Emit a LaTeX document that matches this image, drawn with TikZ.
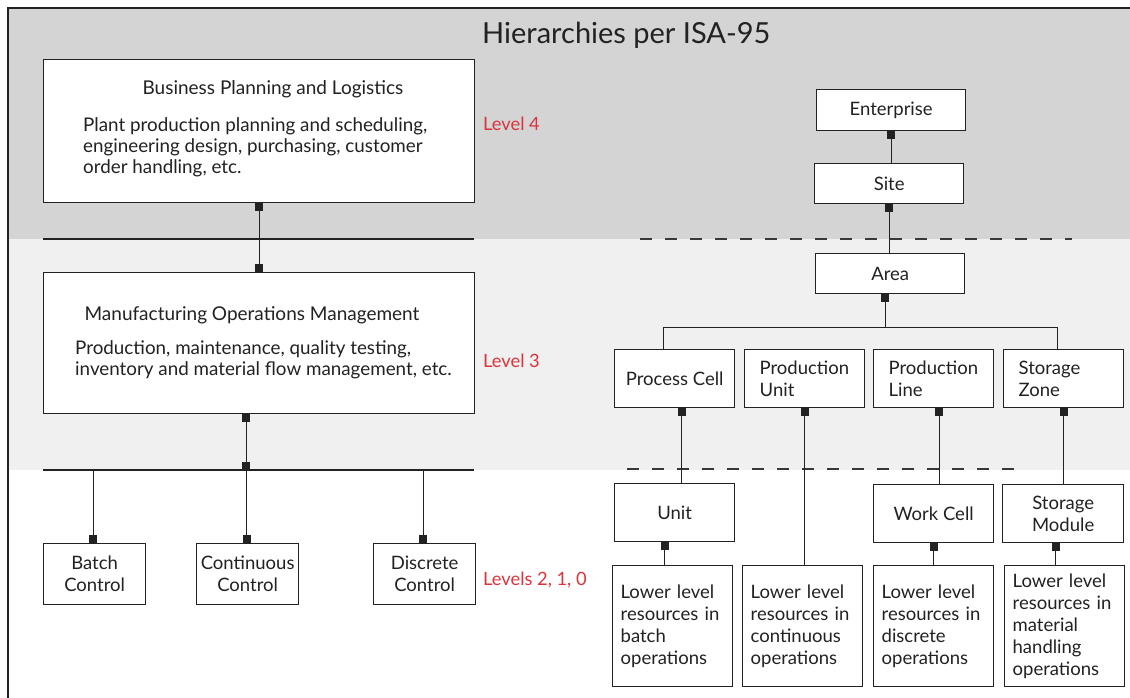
\documentclass[tikz,border=0pt]{standalone}
\usepackage{fontspec}
\setmainfont{Lato}
\usetikzlibrary{arrows.meta}
\definecolor{bandA}{HTML}{D4D4D4}
\definecolor{bandB}{HTML}{F0F0F0}
\definecolor{lvlred}{HTML}{D9343B}
\definecolor{ink}{HTML}{222222}
\tikzset{
  box/.style={draw=ink, line width=1.3pt, fill=white, inner sep=0pt, anchor=north west,
    font=\fontsize{18.5}{22}\selectfont, align=center, text=ink},
  lbox/.style={box, align=left, text width=90pt, inner xsep=15pt},
  rbox/.style={box, align=left, text width=104pt, inner xsep=8pt},
  conn/.style={draw=ink, line width=1pt},
  sqs/.style={conn, {Square[length=8pt,width=8pt]}-},
  sqe/.style={conn, -{Square[length=8pt,width=8pt]}},
  sqb/.style={conn, {Square[length=8pt,width=8pt]}-{Square[length=8pt,width=8pt]}},
  lvl/.style={text=lvlred, font=\fontsize{18.3}{22}\selectfont, anchor=base west, inner sep=0pt},
  sep/.style={draw=ink, line width=1.8pt},
  dsep/.style={draw=ink!90, line width=1.8pt, dash pattern=on 12pt off 13pt},
  body/.style={anchor=north west, align=left, inner sep=0pt, font=\fontsize{18.8}{21}\selectfont, text=ink},
  head/.style={anchor=base, inner sep=0pt, font=\fontsize{19}{22}\selectfont, text=ink}
}
\begin{document}
\begin{tikzpicture}[x=1pt,y=-1pt]
\useasboundingbox (0,0) rectangle (1130,698);
% bands and frame
\fill[bandA] (8,8) rectangle (1130,239);
\fill[bandB] (8,239) rectangle (1130,470);
\draw[line width=2pt, draw=ink] (8,700) -- (8,8) -- (1132,8);
\node[anchor=base west, inner sep=0pt, font=\fontsize{29}{34}\selectfont, text=ink] (title) at (482,44) {Hierarchies per ISA-95};
% separators
\draw[sep] (43,239) -- (474,239);
\draw[sep] (43,470) -- (474,470);
\draw[dsep] (640,239) -- (1072,239);
\draw[dsep] (627,469) -- (1024,469);
% left column
\node[box, minimum width=431pt, minimum height=143pt] (bpl) at (43,59) {};
\node[head] (bplh) at (273,95) {Business Planning and Logistics};
\node[body] (bplb) at (83,117) {Plant production planning and scheduling,\\engineering design, purchasing, customer\\order handling, etc.};
\node[box, minimum width=431pt, minimum height=141pt] (mom) at (43,272) {};
\node[head] (momh) at (252,320) {Manufacturing Operations Management};
\node[body] (momb) at (75,340) {Production, maintenance, quality testing,\\inventory and material flow management, etc.};
\node[box, minimum width=102pt, minimum height=61pt] (batch) at (43,543) {Batch\\Control};
\node[box, minimum width=102pt, minimum height=61pt] (cont) at (196,543) {Continuous\\Control};
\node[box, minimum width=102pt, minimum height=61pt] (disc) at (373,543) {Discrete\\Control};
\coordinate (busc) at (246,470);
\draw[sqb] (bpl.south) -- (mom.north);
\draw[sqb] (mom.south -| busc) -- (busc);
\draw[sqe] ([xshift=-1.5pt]batch.north |- busc) -- ([xshift=-1.5pt]batch.north);
\draw[sqe] ([xshift=-1pt]cont.north |- busc) -- ([xshift=-1pt]cont.north);
\draw[sqe] ([xshift=-1.5pt]disc.north |- busc) -- ([xshift=-1.5pt]disc.north);
% level labels
\node[lvl] (l4) at (483,131) {Level 4};
\node[lvl] (l3) at (483,367) {Level 3};
\node[lvl] (l210) at (483,585) {Levels 2, 1, 0};
% right column
\node[box, minimum width=149pt, minimum height=41pt] (ent) at (816,89) {Enterprise};
\node[box, minimum width=149pt, minimum height=40pt] (site) at (814,163) {Site};
\node[box, minimum width=149pt, minimum height=40pt] (area) at (815,253) {Area};
\node[box, minimum width=120pt, minimum height=58pt] (pc) at (614,349) {Process Cell};
\node[lbox, minimum width=120pt, minimum height=58pt] (pu) at (744,349) {Production\\Unit};
\node[lbox, minimum width=120pt, minimum height=58pt] (pl) at (873,349) {Production\\Line};
\node[lbox, minimum width=120pt, minimum height=58pt] (sz) at (1003,349) {Storage\\Zone};
\node[box, minimum width=120pt, minimum height=58pt] (unit) at (614,483) {Unit};
\node[box, minimum width=120pt, minimum height=58pt] (wc) at (873,484) {Work Cell};
\node[box, minimum width=121pt, minimum height=58pt] (sm) at (1002,484) {Storage\\Module};
\node[rbox, minimum width=120pt, minimum height=121pt] (lb1) at (612,565) {Lower level\\resources in\\batch\\operations};
\node[rbox, minimum width=120pt, minimum height=121pt] (lb2) at (742,565) {Lower level\\resources in\\continuous\\operations};
\node[rbox, minimum width=120pt, minimum height=121pt] (lb3) at (873,565) {Lower level\\resources in\\discrete\\operations};
\node[rbox, minimum width=120pt, minimum height=121pt] (lb4) at (1004,565) {Lower level\\resources in\\material\\handling\\operations};
% right connectors
\draw[sqs] (ent.south) -- (site.north -| ent.south);
\draw[sqs] (site.south) -- (area.north -| site.south);
\path ([xshift=-5pt]area.south) ++(0,33) coordinate (abus);
\draw[sqs] ([xshift=-5pt]area.south) -- (abus);
\draw[conn] ([xshift=-11pt]pc.north) |- (abus) -| ([xshift=-6pt]sz.north);
\draw[sqs] ([xshift=7pt]pc.south) -- ([xshift=7pt]pc.south |- unit.north);
\draw[sqs] (pu.south) -- (pu.south |- lb2.north);
\draw[sqs] ([xshift=5.5pt]pl.south) -- ([xshift=5.5pt]pl.south |- wc.north);
\draw[sqs] (sz.south) -- (sz.south |- sm.north);
\draw[sqs] ([xshift=-10pt]unit.south) -- ([xshift=-10pt]unit.south |- lb1.north);
\draw[sqs] (wc.south) -- (wc.south |- lb3.north);
\draw[sqs] ([xshift=-7.5pt]sm.south) -- ([xshift=-7.5pt]sm.south |- lb4.north);
\end{tikzpicture}
\end{document}
